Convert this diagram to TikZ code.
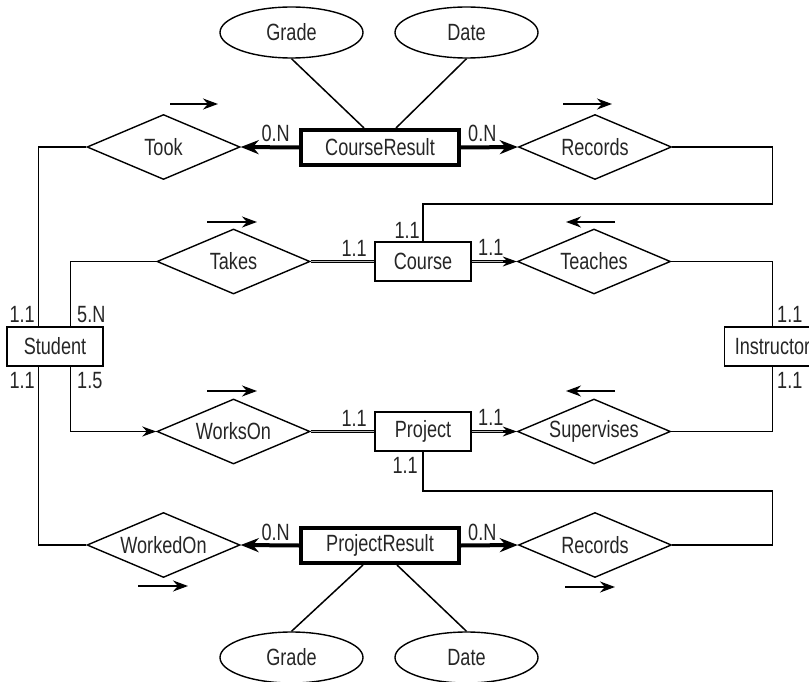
\documentclass[tikz,border=0pt]{standalone}
\usepackage{fontspec}
\setmainfont{Liberation Sans}[FakeStretch=0.77]
\usetikzlibrary{shapes.geometric,arrows.meta}
\begin{document}
\begin{tikzpicture}[x=1pt,y=-1pt,
  every node/.style={font=\fontsize{23.5}{27}\selectfont, text=black!85},
  ent/.style={draw, line width=1.5pt, minimum width=96pt, minimum height=39pt, inner sep=0pt},
  went/.style={draw, line width=4pt, minimum width=158pt, minimum height=35pt, inner sep=0pt},
  rel/.style={draw, diamond, aspect=2.35, minimum width=153pt, minimum height=65pt, inner sep=0pt, line width=1.4pt},
  attr/.style={draw, ellipse, minimum width=143pt, minimum height=51pt, inner sep=0pt, line width=1.4pt},
  conn/.style={line width=1.5pt},
  conarr/.style={line width=1.5pt, -{Stealth[length=14pt,width=10pt]}},
  dirarr/.style={line width=1.5pt, -{Stealth[length=15pt,width=11pt]}},
  thk/.style={line width=4pt, -{Stealth[length=18pt,width=14pt]}},
  dbl/.style={line width=1pt, double=gray!55, double distance=1.8pt},
  tipx/.style={line width=1pt, -{Stealth[length=14pt,width=10pt]}},
  lab/.style={inner sep=0pt}
]
\useasboundingbox (0,0) rectangle (809,682);
\clip (0,0) rectangle (809,682);
\fill[white] (0,0) rectangle (809,682);

% attributes
\node[attr] (g1) at (291.5,32.5) {Grade};
\node[attr] (d1) at (466.5,32.5) {Date};
\node[attr] (g2) at (291.5,657.5) {Grade};
\node[attr] (d2) at (466.5,657.5) {Date};

% weak entities
\node[went] (cr) at (380,147.5) {CourseResult};
\node[went] (pr) at (380,545.5) {ProjectResult};

% entities
\node[ent] (course) at (423,261.5) {Course};
\node[ent] (project) at (423,431.5) {Project};
\node[ent] (student) at (55,346.5) {Student};
\node[ent] (instr) at (772.5,346.5) {Instructor};

% relationships
\node[rel] (took) at (163.5,147) {Took};
\node[rel] (rec1) at (595,147) {Records};
\node[rel] (takes) at (233.5,261.5) {Takes};
\node[rel] (teaches) at (594,261.5) {Teaches};
\node[rel] (workson) at (233.5,431.5) {WorksOn};
\node[rel] (superv) at (594,431.5) {Supervises};
\node[rel] (workedon) at (163.5,545) {WorkedOn};
\node[rel] (rec2) at (595,545) {Records};

% attribute links
\draw[conn] (g1.south) -- ([xshift=-16pt]cr.north);
\draw[conn] (d1.south) -- ([xshift=16pt]cr.north);
\draw[conn] (g2.north) -- ([xshift=-17pt]pr.south);
\draw[conn] (d2.north) -- ([xshift=17pt]pr.south);

% weak entity links
\draw[thk] (cr.west) -- (took.east);
\draw[thk] (cr.east) -- (rec1.west);
\draw[thk] (pr.west) -- (workedon.east);
\draw[thk] (pr.east) -- (rec2.west);

% student links
\draw[conn] ([xshift=32pt]student.north west) |- (took.west);
\draw[conn] ([xshift=64pt]student.north west) |- (takes.west);
\draw[conn] ([xshift=32pt]student.south west) |- (workedon.west);
\draw[conarr] ([xshift=64pt]student.south west) |- (workson.west);

% records links
\coordinate (rc1) at (772.5,204);
\coordinate (rc2) at (772.5,491);
\draw[conn] (rec1.east) -| (rc1) -| (course.north);
\draw[conn] (project.south) |- (rc2) |- (rec2.east);

% instructor links
\draw[conn] (teaches.east) -| (instr.north);
\draw[conn] (superv.east) -| (instr.south);

% double links
\draw[dbl] (takes.east) -- (course.west);
\draw[dbl] (workson.east) -- (project.west);
\draw[dbl, shorten >=10pt] (course.east) -- (teaches.west);
\draw[tipx] ([xshift=-14pt]teaches.west) -- (teaches.west);
\draw[dbl, shorten >=10pt] (project.east) -- (superv.west);
\draw[tipx] ([xshift=-14pt]superv.west) -- (superv.west);

% direction arrows
\coordinate (a1s) at (170,104); \coordinate (a1e) at (218,104);
\coordinate (a2s) at (563,104); \coordinate (a2e) at (612,104);
\coordinate (a3s) at (207,222); \coordinate (a3e) at (257,222);
\coordinate (a4s) at (615,222); \coordinate (a4e) at (566,222);
\coordinate (a5s) at (207,391); \coordinate (a5e) at (257,391);
\coordinate (a6s) at (615,391); \coordinate (a6e) at (566,391);
\coordinate (a7s) at (138,586); \coordinate (a7e) at (188,586);
\coordinate (a8s) at (565,587); \coordinate (a8e) at (615,587);
\foreach \i in {1,...,8} {\draw[dirarr] (a\i s) -- (a\i e);}

% multiplicities
\node[lab, anchor=base east] (m1) at (290,142) {0.N};
\node[lab, anchor=base west] (m2) at (468,142) {0.N};
\node[lab, anchor=base east] (m3) at (420,238) {1.1};
\node[lab, anchor=base east] (m4) at (367,256) {1.1};
\node[lab, anchor=base west] (m5) at (478,255) {1.1};
\node[lab, anchor=base east] (m6) at (35,322) {1.1};
\node[lab, anchor=base west] (m7) at (77,322) {5.N};
\node[lab, anchor=base east] (m8) at (35,388) {1.1};
\node[lab, anchor=base west] (m9) at (77,388) {1.5};
\node[lab, anchor=base west] (m10) at (777,322) {1.1};
\node[lab, anchor=base west] (m11) at (777,388) {1.1};
\node[lab, anchor=base east] (m12) at (367,426) {1.1};
\node[lab, anchor=base west] (m13) at (478,425) {1.1};
\node[lab, anchor=base east] (m14) at (418,473) {1.1};
\node[lab, anchor=base east] (m15) at (290,540) {0.N};
\node[lab, anchor=base west] (m16) at (468,540) {0.N};
\end{tikzpicture}
\end{document}
